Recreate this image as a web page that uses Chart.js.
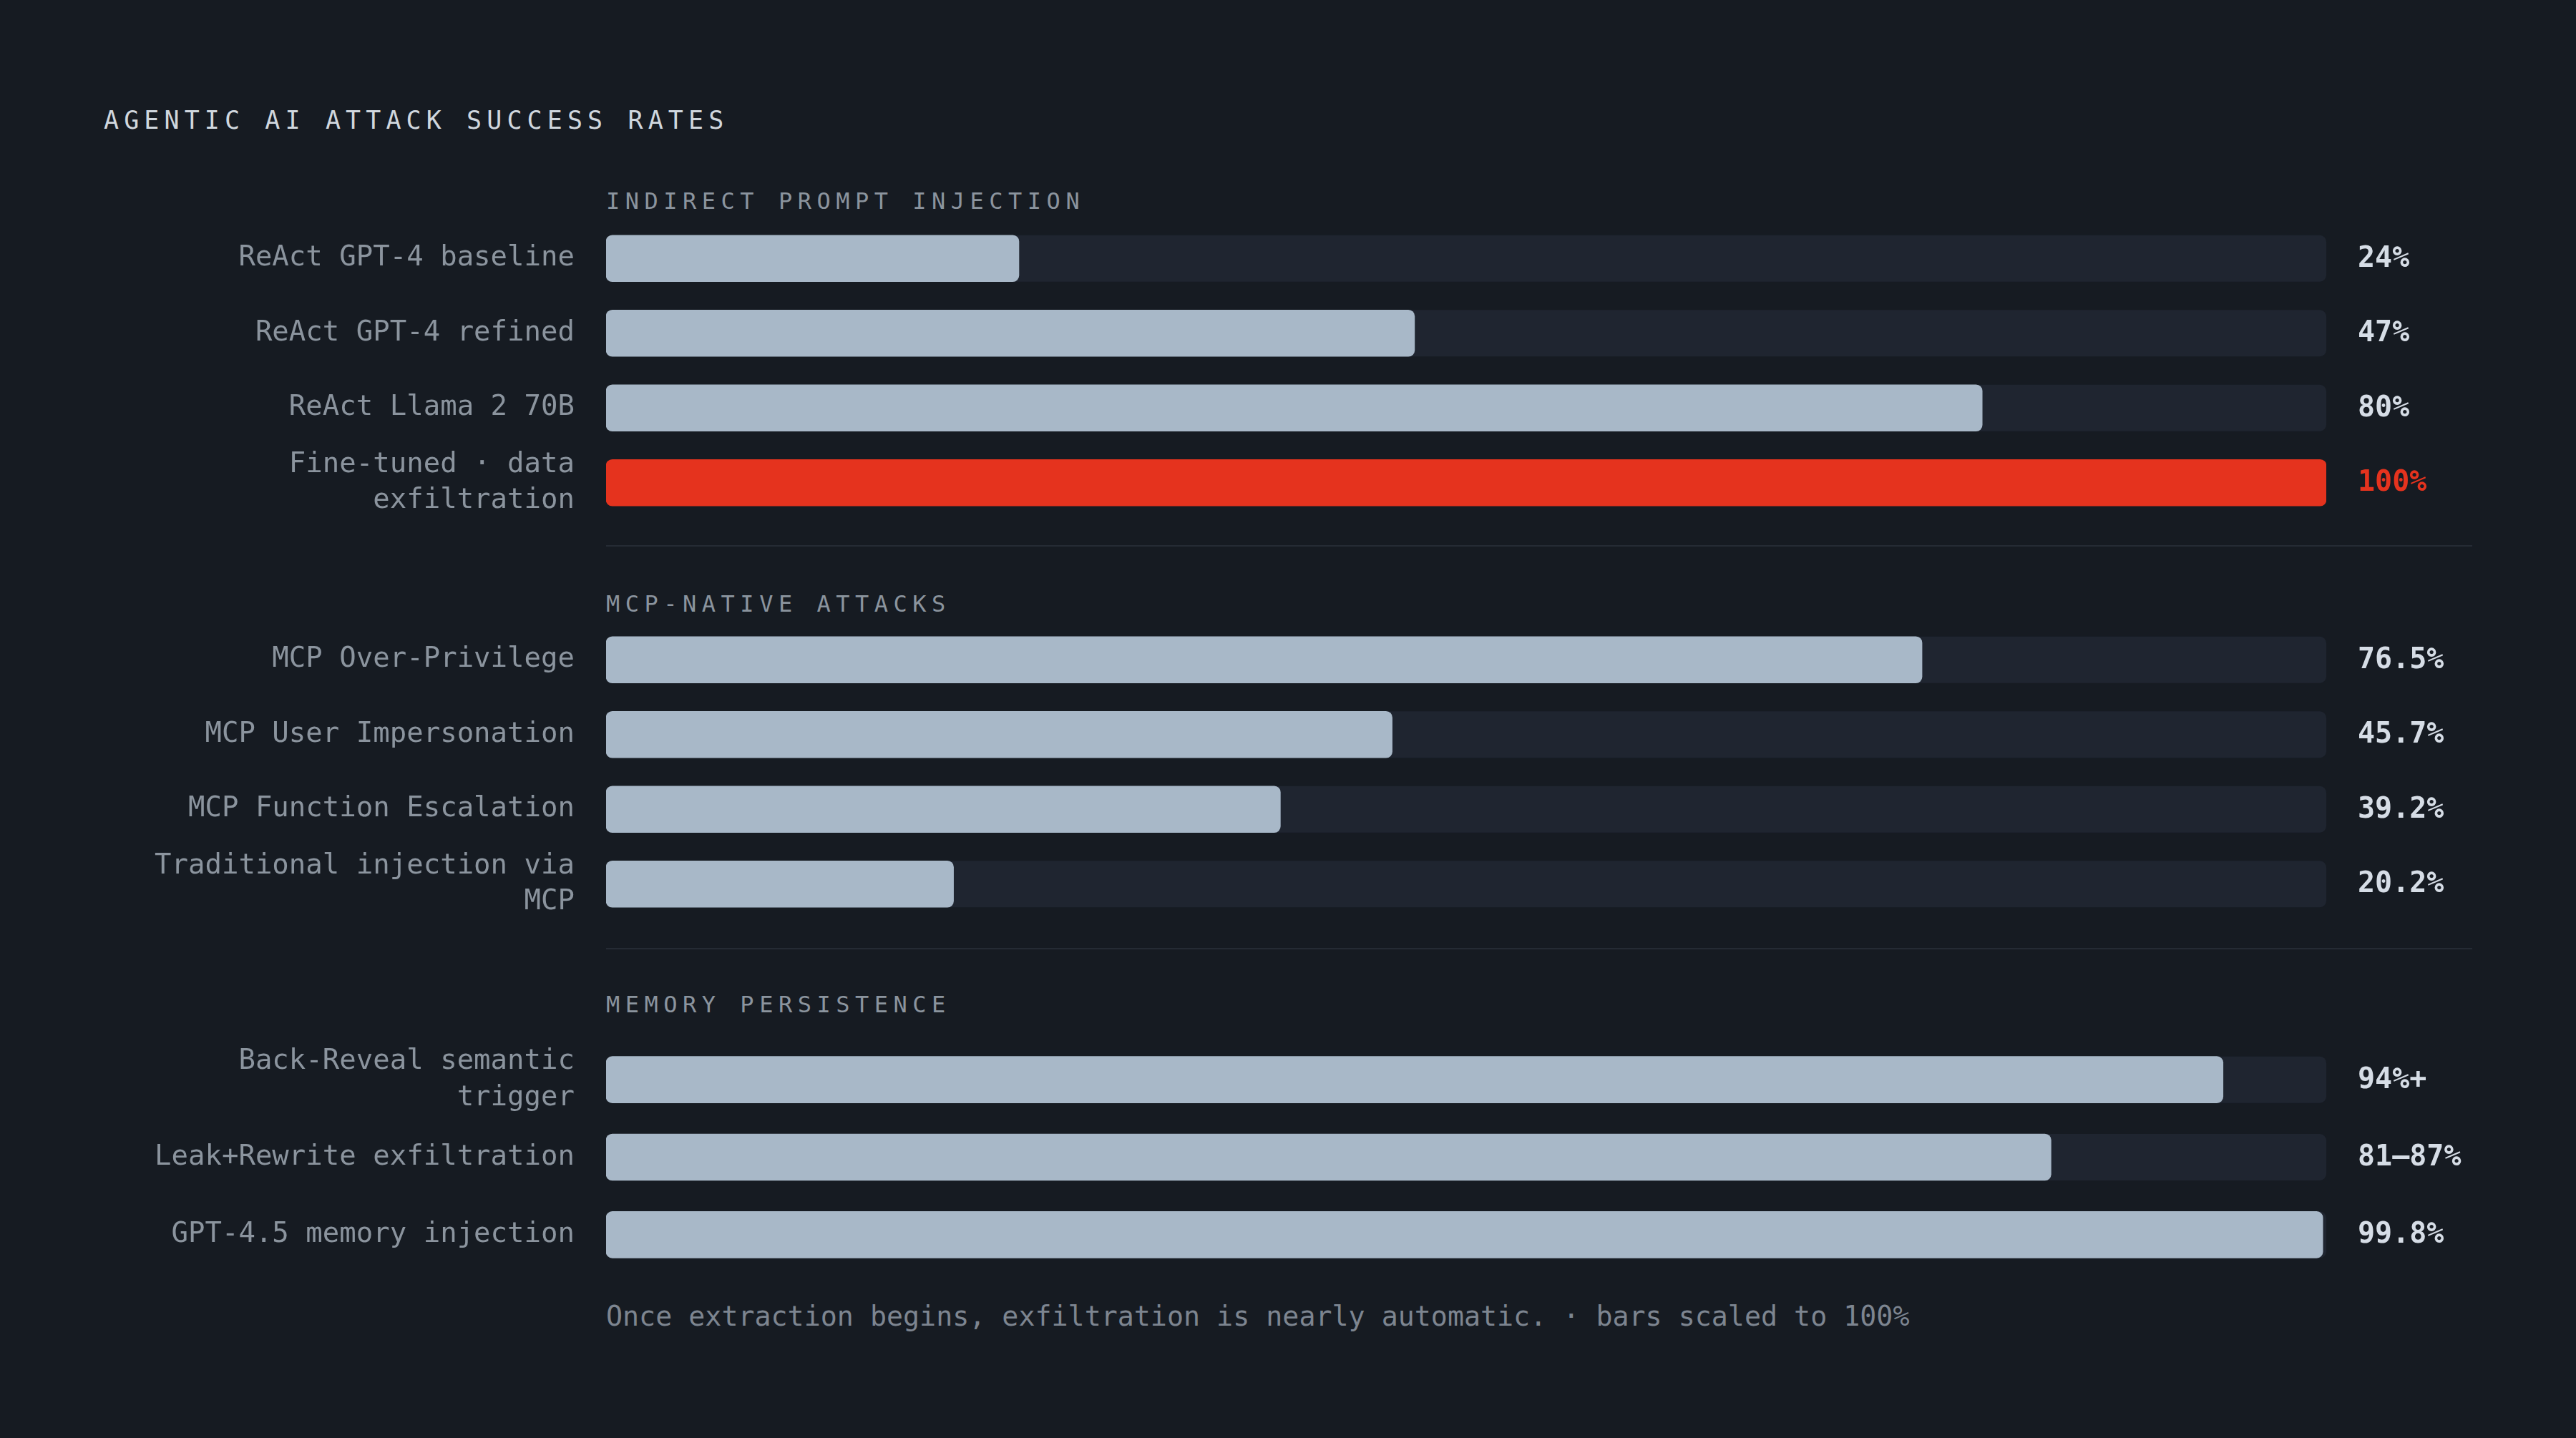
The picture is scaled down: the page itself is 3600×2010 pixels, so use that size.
<!DOCTYPE html>
<html>
<head>
<meta charset="utf-8">
<title>Agentic AI attack success rates</title>
<script src="https://cdn.jsdelivr.net/npm/chart.js@4.4.1/dist/chart.umd.min.js"></script>
<style>
  body { margin: 0; background: #161b22; width: 3600px; height: 2010px; overflow: hidden; position: relative; font-family: 'DejaVu Sans Mono', monospace; }
  .txt { position: absolute; line-height: 1; white-space: pre; }
  .title { left: 145px; top: 151px; font-size: 35px; letter-spacing: 7.1px; color: #d0d7de; }
  .head { left: 847px; font-size: 32px; letter-spacing: 7.5px; color: #8b949e; }
  .note { left: 847px; top: 1821px; font-size: 38.3px; color: #7d8590; }
  .rule { position: absolute; left: 847px; width: 2608px; height: 2px; background: #252b34; }
  .box { position: absolute; left: 0; }
</style>
</head>
<body>
<div class="txt title">AGENTIC AI ATTACK SUCCESS RATES</div>

<div class="txt head" style="top:265px">INDIRECT PROMPT INJECTION</div>
<div class="box" style="top:309px"><canvas id="injChart" width="3600" height="418"></canvas></div>
<div class="rule" style="top:762px"></div>

<div class="txt head" style="top:828px">MCP-NATIVE ATTACKS</div>
<div class="box" style="top:870px"><canvas id="mcpChart" width="3600" height="418"></canvas></div>
<div class="rule" style="top:1325px"></div>

<div class="txt head" style="top:1388px">MEMORY PERSISTENCE</div>
<div class="box" style="top:1455px"><canvas id="memChart" width="3600" height="325"></canvas></div>

<div class="txt note">Once extraction begins, exfiltration is nearly automatic. · bars scaled to 100%</div>

<script>
// section 1
const injLabels = ['ReAct GPT-4 baseline', 'ReAct GPT-4 refined', 'ReAct Llama 2 70B', ['Fine-tuned · data', 'exfiltration']];
const injValues = [24, 47, 80, 100];
const injText = ['24%', '47%', '80%', '100%'];
const injHighlight = [false, false, false, true];

// section 2
const mcpLabels = ['MCP Over-Privilege', 'MCP User Impersonation', 'MCP Function Escalation', ['Traditional injection via', 'MCP']];
const mcpValues = [76.5, 45.7, 39.2, 20.2];
const mcpText = ['76.5%', '45.7%', '39.2%', '20.2%'];
const mcpHighlight = [false, false, false, false];

// section 3
const memLabels = [['Back-Reveal semantic', 'trigger'], 'Leak+Rewrite exfiltration', 'GPT-4.5 memory injection'];
const memValues = [94, 84, 99.8];
const memText = ['94%+', '81–87%', '99.8%'];
const memHighlight = [false, false, false];

const scaleMax = 100;

const BAR = '#a8b8c8';
const RED = '#e5331e';
const TRACK = '#1f2530';

// grey track behind every bar, full 0..100 width
const trackPlugin = {
    id: 'track',
    beforeDatasetsDraw(chart) {
        const ctx = chart.ctx;
        const x = chart.scales.x;
        const x0 = x.getPixelForValue(0);
        const x1 = x.getPixelForValue(scaleMax);
        ctx.save();
        ctx.fillStyle = TRACK;
        chart.getDatasetMeta(0).data.forEach(bar => {
            ctx.beginPath();
            ctx.roundRect(x0, bar.y - bar.height / 2, x1 - x0, bar.height, 9);
            ctx.fill();
        });
        ctx.restore();
    }
};

// value text to the right of the track
const valuePlugin = {
    id: 'values',
    afterDatasetsDraw(chart, args, opts) {
        const ctx = chart.ctx;
        const x = chart.scales.x.getPixelForValue(scaleMax) + 44;
        ctx.save();
        ctx.font = 'bold 40px "DejaVu Sans Mono"';
        ctx.textAlign = 'left';
        ctx.textBaseline = 'middle';
        chart.getDatasetMeta(0).data.forEach((bar, i) => {
            ctx.fillStyle = opts.highlight[i] ? RED : '#d6dde6';
            ctx.fillText(opts.text[i], x, bar.y + 1);
        });
        ctx.restore();
    }
};

const renderChart = (id, labels, data, text, highlight) => {
    const ctx = document.getElementById(id).getContext('2d');
    return new Chart(ctx, {
        type: 'bar',
        data: {
            labels: labels,
            datasets: [{
                data: data,
                backgroundColor: highlight.map(h => h ? RED : BAR),
                borderRadius: 9,
                borderSkipped: false,
                barThickness: 65
            }]
        },
        options: {
            indexAxis: 'y',
            responsive: false,
            animation: false,
            layout: { padding: { left: 0, right: 349, top: 0, bottom: 0 } },
            scales: {
                x: { min: 0, max: scaleMax, display: false },
                y: {
                    offset: true,
                    grid: { display: false, drawTicks: false },
                    border: { display: false },
                    ticks: {
                        color: '#8b949e',
                        padding: 44,
                        font: { family: 'DejaVu Sans Mono', size: 39, lineHeight: 1.3 }
                    },
                    // fixed label column, and no vertical padding from the tick labels
                    afterFit: scale => {
                        scale.width = 847;
                        scale.paddingTop = 0;
                        scale.paddingBottom = 0;
                    }
                }
            },
            plugins: {
                legend: { display: false },
                tooltip: { enabled: false },
                values: { text: text, highlight: highlight }
            }
        },
        plugins: [trackPlugin, valuePlugin]
    });
}

renderChart('injChart', injLabels, injValues, injText, injHighlight);
renderChart('mcpChart', mcpLabels, mcpValues, mcpText, mcpHighlight);
renderChart('memChart', memLabels, memValues, memText, memHighlight);
</script>
</body>
</html>
